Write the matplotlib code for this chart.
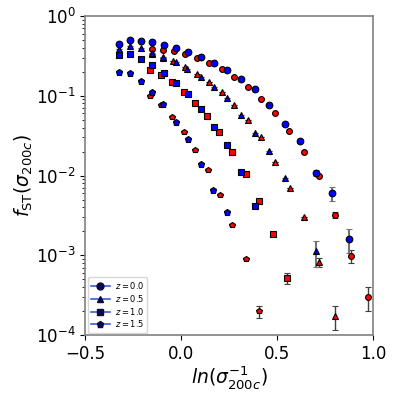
import numpy as np
import matplotlib
matplotlib.use("Agg")
import matplotlib.pyplot as plt
from matplotlib.lines import Line2D

# ---- data ----
labels = ["$z=0.0$", "$z=0.5$", "$z=1.0$", "$z=1.5$"]
markers = ["o", "^", "s", "p"]

# blue series
bx0 = [-0.326, -0.268, -0.211, -0.154, -0.093, -0.029, 0.034, 0.102, 0.168, 0.237, 0.310, 0.383, 0.456, 0.539, 0.617, 0.701, 0.784, 0.872]
by0 = [0.442, 0.500, 0.482, 0.465, 0.433, 0.394, 0.354, 0.309, 0.255, 0.213, 0.162, 0.121, 0.0759, 0.0447, 0.0273, 0.0108, 0.00598, 0.00161]
be0 = [0, 0, 0, 0, 0, 0, 0, 0, 0, 0, 0, 0, 0, 0, 0, 0.0009, 0.0012, 0.00055]

bx1 = [-0.326, -0.268, -0.211, -0.154, -0.096, -0.029, 0.030, 0.102, 0.168, 0.237, 0.310, 0.383, 0.458, 0.538, 0.701]
by1 = [0.386, 0.421, 0.394, 0.347, 0.309, 0.263, 0.216, 0.173, 0.129, 0.0929, 0.0569, 0.0341, 0.0206, 0.00931, 0.00112]
be1 = [0, 0, 0, 0, 0, 0, 0, 0, 0, 0, 0, 0, 0, 0, 0.0004]

bx2 = [-0.326, -0.268, -0.211, -0.154, -0.091, -0.029, 0.034, 0.102, 0.168, 0.237, 0.310, 0.384]
by2 = [0.324, 0.337, 0.289, 0.245, 0.195, 0.146, 0.105, 0.0692, 0.0409, 0.0243, 0.0111, 0.00411]
be2 = [0] * 12

bx3 = [-0.326, -0.268, -0.211, -0.154, -0.094, -0.029, 0.034, 0.100, 0.167, 0.237]
by3 = [0.199, 0.191, 0.152, 0.111, 0.0783, 0.0473, 0.0284, 0.0141, 0.00658, 0.00346]
be3 = [0] * 10

# red series
rx0 = [-0.154, -0.094, -0.039, 0.018, 0.081, 0.143, 0.211, 0.273, 0.346, 0.414, 0.487, 0.560, 0.638, 0.716, 0.799, 0.883, 0.971]
ry0 = [0.382, 0.375, 0.367, 0.337, 0.297, 0.260, 0.215, 0.172, 0.129, 0.091, 0.0608, 0.0361, 0.0195, 0.00986, 0.00322, 0.00099, 0.000299]
re0 = [0, 0, 0, 0, 0, 0, 0, 0, 0, 0, 0, 0, 0, 0, 0.0003, 0.00018, 0.0001]

rx1 = [-0.154, -0.097, -0.043, 0.020, 0.081, 0.143, 0.211, 0.276, 0.345, 0.414, 0.487, 0.563, 0.639, 0.719, 0.799]
ry1 = [0.334, 0.300, 0.273, 0.227, 0.189, 0.147, 0.110, 0.0766, 0.0497, 0.0307, 0.0150, 0.00697, 0.00302, 0.000816, 0.000175]
re1 = [0, 0, 0, 0, 0, 0, 0, 0, 0, 0, 0, 0, 0, 0.0001, 0.00006]

rx2 = [-0.164, -0.107, -0.049, 0.012, 0.073, 0.133, 0.198, 0.266, 0.334, 0.404, 0.475, 0.548]
ry2 = [0.209, 0.184, 0.149, 0.112, 0.0811, 0.0557, 0.0348, 0.0195, 0.0104, 0.00479, 0.00183, 0.000514]
re2 = [0, 0, 0, 0, 0, 0, 0, 0, 0, 0, 0, 0.00008]

rx3 = [-0.163, -0.107, -0.048, 0.013, 0.073, 0.136, 0.201, 0.266, 0.336, 0.405]
ry3 = [0.0993, 0.0766, 0.0537, 0.0354, 0.0209, 0.0119, 0.00569, 0.00242, 0.000889, 0.000198]
re3 = [0, 0, 0, 0, 0, 0, 0, 0, 0, 0.000035]

xticks = [-0.5, 0.0, 0.5, 1.0]

blue_sets = [(bx0, by0, be0), (bx1, by1, be1), (bx2, by2, be2), (bx3, by3, be3)]
red_sets = [(rx0, ry0, re0), (rx1, ry1, re1), (rx2, ry2, re2), (rx3, ry3, re3)]

fig = plt.figure(figsize=(3.99, 3.99), dpi=100)
ax = fig.add_axes([0.214, 0.160, 0.722, 0.800])

for i, m in enumerate(markers):
    bx, by, be = blue_sets[i]
    rx, ry, re = red_sets[i]
    ax.errorbar(rx, ry, yerr=re, fmt=m, ms=4.2, mfc="red", mec="k", mew=0.8,
                ecolor="0.25", elinewidth=1.0, capsize=2, capthick=1, zorder=3)
    ax.errorbar(bx, by, yerr=be, fmt=m, ms=4.8, mfc="blue", mec="k", mew=0.8,
                ecolor="0.45", elinewidth=1.5, capsize=2, capthick=1, zorder=3)

ax.set_yscale("log")
ax.set_xlim(-0.5, 1.0)
ax.set_ylim(1e-4, 1.0)
ax.set_xticks(xticks)
ax.tick_params(axis="both", which="major", labelsize=12)

for sp in ax.spines.values():
    sp.set_color("0.5")
    sp.set_linewidth(1.2)

ax.set_xlabel(r"$ln(\sigma_{200c}^{-1})$", fontsize=13.5, labelpad=1)
ax.set_ylabel(r"$f_{\rm ST}(\sigma_{200c})$", fontsize=13.5, labelpad=1)

handles = [Line2D([0], [0], color="#3d5fd0", lw=1.2, marker=m, ms=5,
                  mfc="#0a0a40", mec="#0a0a40") for m in markers]
ax.legend(handles, labels, loc="lower left", fontsize=6, handlelength=2.2,
          borderpad=0.4, labelspacing=0.2, handletextpad=0.6, borderaxespad=0.3)

fig.savefig("out.png", dpi=100)
